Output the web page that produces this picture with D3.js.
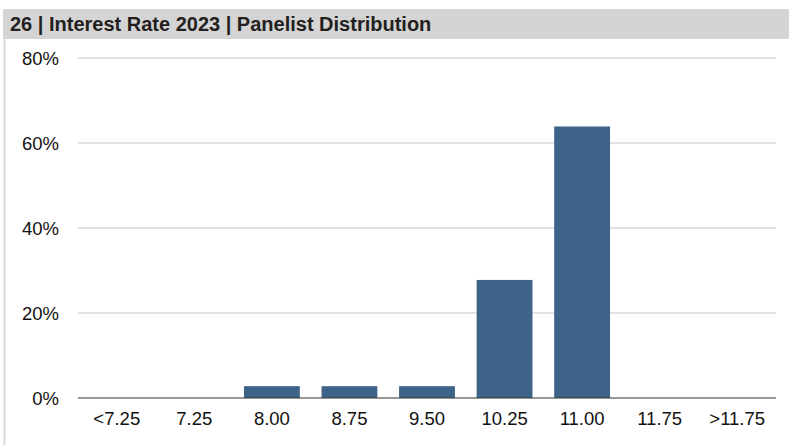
<!DOCTYPE html>
<html>
<head>
<meta charset="UTF-8">
<script src="https://d3js.org/d3.v7.min.js"></script>
<style>
    body { margin: 0; background: #fff; font-family: "Liberation Sans", Arial, sans-serif; }
    .tick text { font-size: 18.5px; fill: #111; font-family: "Liberation Sans", Arial, sans-serif; }
</style>
</head>
<body>
<div id="chart"></div>
<script>
const categories = ["<7.25", "7.25", "8.00", "8.75", "9.50", "10.25", "11.00", "11.75", ">11.75"];
const shares = [0, 0, 2.78, 2.78, 2.78, 27.78, 63.89, 0, 0];
const yTicks = [0, 20, 40, 60, 80];
const title = "26 | Interest Rate 2023 | Panelist Distribution";

const W = 789, H = 445;
const svg = d3.select("#chart").append("svg")
    .attr("width", W).attr("height", H);

// header band + left frame
svg.append("rect").attr("x", 3).attr("y", 9).attr("width", W - 3).attr("height", 30).attr("fill", "#d4d4d4");
svg.append("line").attr("x1", 4.5).attr("x2", 4.5).attr("y1", 39).attr("y2", H)
    .attr("stroke", "#d9d9d9").attr("stroke-width", 2);
svg.append("text").attr("x", 10).attr("y", 31)
    .style("font-size", "20px").style("font-weight", "bold").attr("fill", "#231f20")
    .text(title);

const x = d3.scaleBand().domain(categories).range([78, 776]).paddingInner(0.28).paddingOuter(0.14);
const y = d3.scaleLinear().domain([0, 80]).range([398, 58]);

// grid
svg.append("g").selectAll("line").data(yTicks.filter(d => d > 0)).join("line")
    .attr("x1", 78).attr("x2", 776)
    .attr("y1", d => y(d)).attr("y2", d => y(d))
    .attr("stroke", "#d9d9d9").attr("stroke-width", 1.5);

svg.append("g").selectAll("rect").data(categories).join("rect")
    .attr("x", d => x(d))
    .attr("width", x.bandwidth())
    .attr("y", (d, i) => y(shares[i]))
    .attr("height", (d, i) => y(0) - y(shares[i]))
    .attr("fill", "#3e6388");

// baseline
svg.append("line").attr("x1", 78).attr("x2", 776).attr("y1", y(0)).attr("y2", y(0))
    .attr("stroke", "#333").attr("stroke-width", 1);

const yAxis = svg.append("g").attr("transform", "translate(59,0)")
    .call(d3.axisLeft(y).tickValues(yTicks).tickSize(0).tickPadding(0).tickFormat(d => d + "%"));
yAxis.select(".domain").remove();
yAxis.selectAll("text").attr("dy", "0.35em");

const xAxis = svg.append("g").attr("transform", "translate(0,398)")
    .call(d3.axisBottom(x).tickSize(0).tickPadding(14));
xAxis.select(".domain").remove();
</script>
</body>
</html>
